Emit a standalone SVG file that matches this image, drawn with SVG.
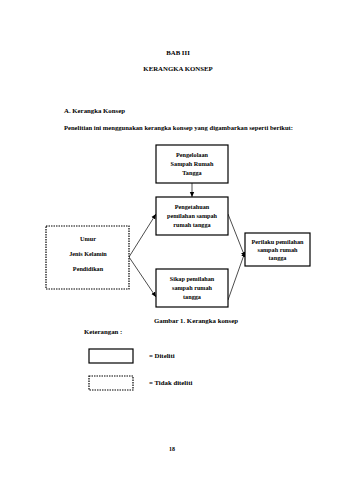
<svg xmlns="http://www.w3.org/2000/svg" width="339" height="480" viewBox="0 0 339 480">
<style>
text{font-family:"Liberation Serif",serif;fill:#000;font-weight:bold;}
.t{font-size:6.2px;text-anchor:middle;}
.h{font-size:6.8px;}
.box{fill:#fff;stroke:#000;stroke-width:1.2;}
.dash{fill:#fff;stroke:#000;stroke-width:1.2;stroke-dasharray:1.5,1;}
.ln{stroke:#000;stroke-width:0.7;fill:none;marker-end:url(#ah);}
</style>
<defs>
<marker id="ah" markerWidth="6" markerHeight="6" refX="5" refY="3" orient="auto" markerUnits="userSpaceOnUse">
<path d="M0,0.8 L5,3 L0,5.2 Z" fill="#000"/>
</marker>
</defs>
<rect width="339" height="480" fill="#fff"/>
<text class="h" x="178" y="55" text-anchor="middle">BAB III</text>
<text class="h" x="178" y="71" text-anchor="middle">KERANGKA KONSEP</text>
<text class="h" x="64" y="113">A.  Kerangka Konsep</text>
<text class="h" x="64" y="130" textLength="229" lengthAdjust="spacingAndGlyphs">Penelitian ini menggunakan kerangka konsep yang digambarkan seperti berikut:</text>
<g id="connectors">
<line class="ln" x1="192" y1="183" x2="192" y2="197"/>
<line class="ln" x1="129" y1="257" x2="156" y2="214"/>
<line class="ln" x1="129" y1="257" x2="156" y2="297"/>
<line class="ln" x1="228" y1="214" x2="245" y2="257"/>
<line class="ln" x1="228" y1="300" x2="245" y2="252"/>
</g>
<g id="n1"><rect class="box" x="156" y="145" width="72" height="38"/>
<text class="t" x="192" y="157">Pengelolaan</text><text class="t" x="192" y="166">Sampah Rumah</text><text class="t" x="192" y="175">Tangga</text></g>
<g id="n2"><rect class="box" x="156" y="197" width="72" height="38"/>
<text class="t" x="192" y="209">Pengetahuan</text><text class="t" x="192" y="218">pemilahan sampah</text><text class="t" x="192" y="227">rumah tangga</text></g>
<g id="n3"><rect class="dash" x="46" y="226" width="83" height="63"/>
<text class="t" x="88" y="241">Umur</text><text class="t" x="88" y="256">Jenis Kelamin</text><text class="t" x="88" y="271">Pendidikan</text></g>
<g id="n4"><rect class="box" x="156" y="269" width="72" height="38"/>
<text class="t" x="192" y="281">Sikap pemilahan</text><text class="t" x="192" y="290">sampah rumah</text><text class="t" x="192" y="299">tangga</text></g>
<g id="n5"><rect class="box" x="245" y="233" width="65" height="33"/>
<text class="t" x="277.5" y="244">Perilaku pemilahan</text><text class="t" x="277.5" y="252">sampah rumah</text><text class="t" x="277.5" y="260">tangga</text></g>
<text class="h" x="196" y="323" text-anchor="middle">Gambar 1. Kerangka konsep</text>
<text class="h" x="84" y="334">Keterangan :</text>
<g id="legend">
<rect class="box" x="89" y="349" width="44" height="14"/>
<text class="h" x="149" y="358" font-size="6.2">= Diteliti</text>
<rect class="dash" x="89" y="376" width="44" height="14"/>
<text class="h" x="149" y="385" font-size="6.2">= Tidak diteliti</text>
</g>
<text x="172" y="451" font-size="6" text-anchor="middle">18</text>
</svg>
